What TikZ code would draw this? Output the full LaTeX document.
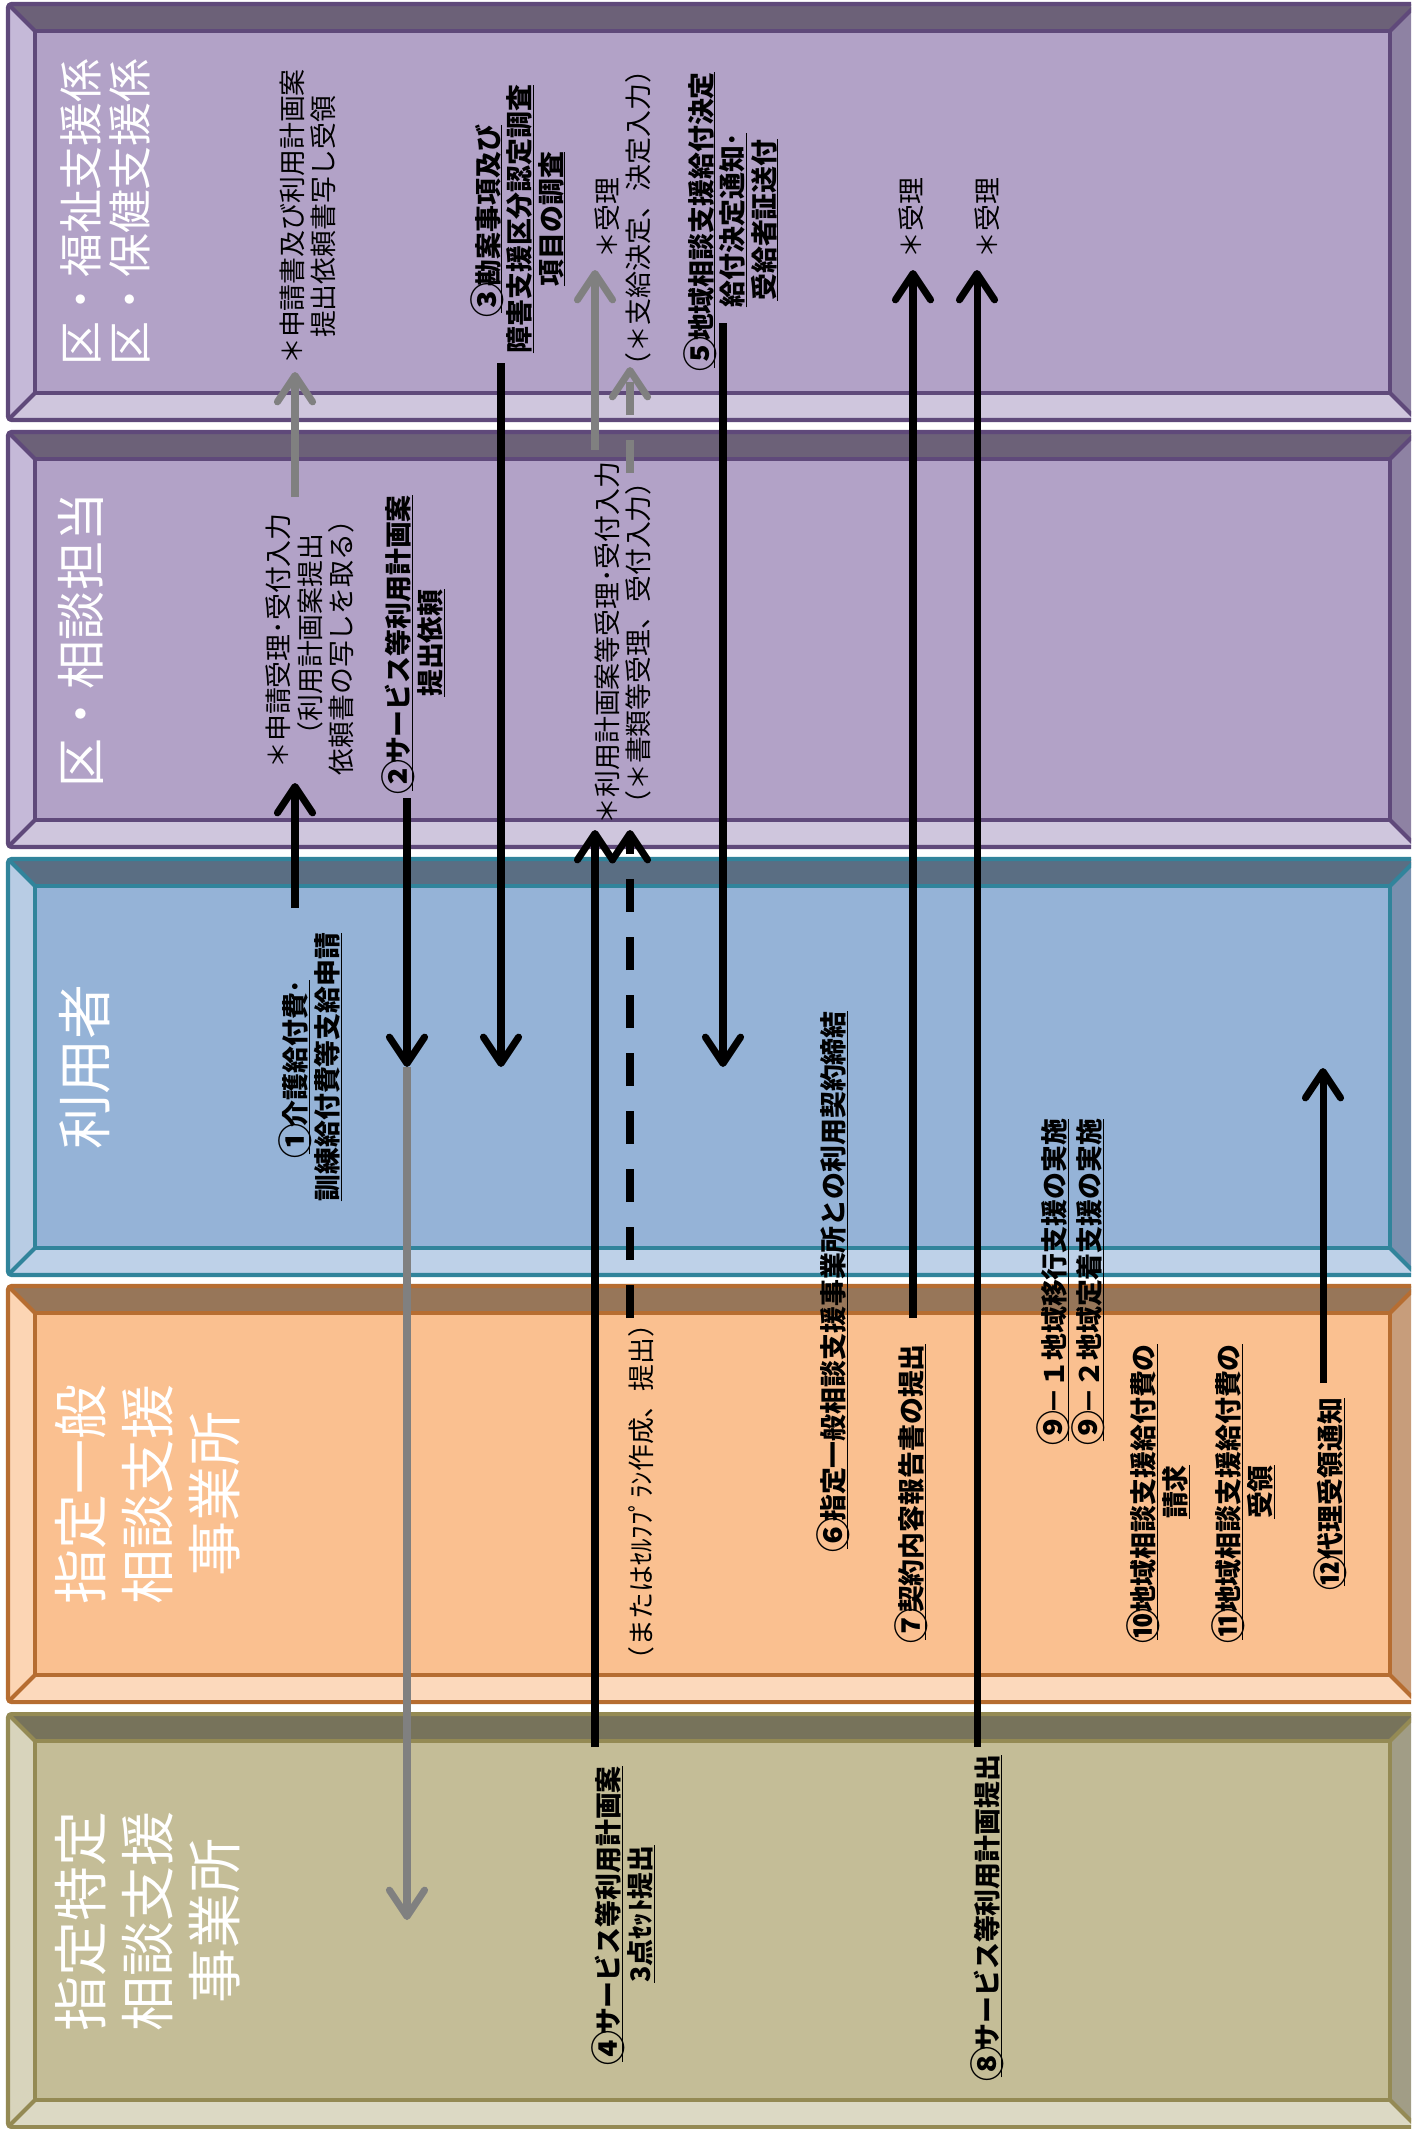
\documentclass[tikz,border=0pt]{standalone}
\usepackage{fontspec}
\setmainfont{Noto Sans CJK JP}
\usetikzlibrary{arrows.meta}
\definecolor{pfill}{HTML}{B2A2C7}
\definecolor{pline}{HTML}{5F497A}
\definecolor{ptop}{HTML}{6C6178}
\definecolor{pbot}{HTML}{CFC6DD}
\definecolor{pleft}{HTML}{C5B9D8}
\definecolor{pright}{HTML}{8E82A3}
\definecolor{bfill}{HTML}{95B3D7}
\definecolor{bline}{HTML}{31849B}
\definecolor{btop}{HTML}{5A6E83}
\definecolor{bbot}{HTML}{BED1E8}
\definecolor{bleft}{HTML}{B8CCE4}
\definecolor{bright}{HTML}{7990AF}
\definecolor{ofill}{HTML}{FAC090}
\definecolor{oline}{HTML}{B66D31}
\definecolor{otop}{HTML}{977659}
\definecolor{obot}{HTML}{FCD9BC}
\definecolor{oleft}{HTML}{FCD5B4}
\definecolor{oright}{HTML}{C79D7B}
\definecolor{gfill}{HTML}{C4BD97}
\definecolor{gline}{HTML}{948A54}
\definecolor{gtop}{HTML}{77735B}
\definecolor{gbot}{HTML}{DCD9C4}
\definecolor{gleft}{HTML}{D8D4BC}
\definecolor{gright}{HTML}{A19D86}
\definecolor{arrgray}{HTML}{808080}
\newcommand\myul[1]{\setbox0=\hbox{#1}\rlap{\rule[-0.16em]{\wd0}{0.6pt}}\box0}
\newcommand\cn[1]{\makebox[1em]{\raisebox{-0.09em}{\scalebox{1.3}{#1}}}}
\newcommand\bevelband[3]{%
  \fill[#3top] (8,#1) -- (1417,#1) -- (1390,{#1+27}) -- (35,{#1+27}) -- cycle;
  \fill[#3bot] (8,#2) -- (1417,#2) -- (1390,{#2-27}) -- (35,{#2-27}) -- cycle;
  \fill[#3left] (8,#1) -- (35,{#1+27}) -- (35,{#2-27}) -- (8,#2) -- cycle;
  \fill[#3right] (1417,#1) -- (1390,{#1+27}) -- (1390,{#2-27}) -- (1417,#2) -- cycle;
  \fill[#3fill] (35,{#1+27}) rectangle (1390,{#2-27});
  \draw[#3line, line width=2.3pt, rounded corners=2pt] (8,#1) rectangle (1417,#2);
  \draw[#3line, line width=2.3pt] (35,{#1+27}) rectangle (1390,{#2-27});
  \draw[#3line, line width=2.3pt] (8,#1) -- (35,{#1+27}) (1417,#1) -- (1390,{#1+27})
     (8,#2) -- (35,{#2-27}) (1417,#2) -- (1390,{#2-27});
}
\tikzset{
  lbl/.style={rotate=90, inner sep=0pt, align=center,
    font=\fontsize{15.3pt}{17.9pt}\selectfont},
  blbl/.style={rotate=90, inner sep=0pt, align=center,
    font=\fontsize{15.3pt}{17.9pt}\selectfont\bfseries},
  ttl/.style={rotate=90, inner sep=0pt, align=center, text=white},
  tiphead/.style={-{Straight Barb[length=15pt,width=20pt,line cap=round,line join=round]}},
  barr/.style={draw=black, line width=4pt, tiphead},
  garr/.style={draw=arrgray, line width=4pt, tiphead},
  dashpat/.style={dash pattern=on 18.8pt off 14.2pt}
}
\begin{document}
\begin{tikzpicture}[x=0.02cm, y=-0.02cm]
\useasboundingbox (0,0) rectangle (1411,2129);
\clip (0,0) rectangle (1411,2129);
\fill[white] (0,0) rectangle (1411,2129);
% bands
\bevelband{4}{420}{p}
\bevelband{432}{847}{p}
\bevelband{859}{1275}{b}
\bevelband{1286}{1702}{o}
\bevelband{1714}{2127}{g}
% titles
\node[ttl, font=\fontsize{25pt}{27.9pt}\selectfont] (t1) at (105,212) {区・福祉支援係\\区・保健支援係};
\node[ttl, font=\fontsize{27.9pt}{30pt}\selectfont] (t2) at (81,640) {区・相談担当};
\node[ttl, font=\fontsize{31.3pt}{34pt}\selectfont] (t3) at (85,1067) {利用者};
\node[ttl, font=\fontsize{31.3pt}{38.1pt}\selectfont] (t4) at (148,1494) {指定一般\\相談支援\\事業所};
\node[ttl, font=\fontsize{31.3pt}{38.1pt}\selectfont] (t5) at (148,1921) {指定特定\\相談支援\\事業所};
% labels band 1
\node[lbl] (la) at (308,217) {＊申請書及び利用計画案\\提出依頼書写し受領};
\node[blbl] (l3) at (518,219) {\myul{\cn{③}勘案事項及び}\\\myul{障害支援区分認定調査}\\\myul{項目の調査}};
\node[lbl] (lb) at (623,218) {＊受理\\（＊支給決定、決定入力）};
\node[blbl] (l5) at (731,220) {\myul{\cn{⑤}地域相談支援給付決定}\\\myul{給付決定通知･}\\\myul{受給者証送付}};
\node[lbl] (ld) at (911,218) {＊受理};
\node[lbl] (le) at (987,218) {＊受理};
% labels band 2
\node[lbl] (lf) at (310,641) {＊申請受理･受付入力\\（利用計画案提出\\依頼書の写しを取る）};
\node[blbl] (l2) at (413,643) {\myul{\cn{②}サービス等利用計画案}\\\myul{提出依頼}};
\node[lbl] (lg) at (623,643) {＊利用計画案等受理･受付入力\\（＊書類等受理、受付入力）};
% labels band 3
\node[blbl] (l1) at (310,1067) {\myul{\cn{①}介護給付費･}\\\myul{訓練給付費等支給申請}};
\node[blbl] (l6) at (833,1280) {\myul{\cn{⑥}指定一般相談支援事業所との利用契約締結}};
\node[blbl] (l9) at (1071,1280) {\myul{\cn{⑨}－１地域移行支援の実施}\\\myul{\cn{⑨}－２地域定着支援の実施}};
% labels band 4
\node[lbl] (lh) at (641,1492) {（またはｾﾙﾌﾌﾟﾗﾝ作成、提出）};
\node[blbl] (l7) at (911,1492) {\myul{\cn{⑦}契約内容報告書の提出}};
\node[blbl] (l10) at (1158,1492) {\myul{\cn{⑩}地域相談支援給付費の}\\\myul{請求}};
\node[blbl] (l11) at (1243,1492) {\myul{\cn{⑪}地域相談支援給付費の}\\\myul{受領}};
\node[blbl] (l12) at (1330,1492) {\myul{\cn{⑫}代理受領通知}};
% labels band 5
\node[blbl] (l4) at (623,1914) {\myul{\cn{④}サービス等利用計画案}\\\myul{3点ｾｯﾄ提出}};
\node[blbl] (l8) at (987,1916) {\myul{\cn{⑧}サービス等利用計画提出}};
% arrow end points
\coordinate (a1s) at (295,497);  \coordinate (a1e) at (295,372);
\coordinate (a2s) at (295,908);  \coordinate (a2e) at (295,783);
\coordinate (a3s) at (407,798);  \coordinate (a3e) at (407,1067);
\coordinate (a4e) at (407,1920);
\coordinate (a5s) at (501,363);  \coordinate (a5e) at (501,1067);
\coordinate (a6s) at (595,1747); \coordinate (a6e) at (595,830);
\coordinate (a7s) at (595,450);  \coordinate (a7e) at (595,270);
\coordinate (a8s) at (630,1318); \coordinate (a8e) at (630,830);
\coordinate (a9s) at (630,473);  \coordinate (a9e) at (630,367);
\coordinate (a10s) at (723,323); \coordinate (a10e) at (723,1067);
\coordinate (a11s) at (913,1318); \coordinate (a11e) at (913,270);
\coordinate (a12s) at (977,1747); \coordinate (a12e) at (977,270);
\coordinate (a13s) at (1323,1383); \coordinate (a13e) at (1323,1068);
% gray arrows
\draw[garr] (a1s) -- (a1e);
\draw[garr] (a3e) -- (a4e);
\draw[garr] (a7s) -- (a7e);
\draw[garr, dashpat] (a9s) -- (a9e);
% black arrows
\draw[barr] (a2s) -- (a2e);
\draw[barr] (a3s) -- (a3e);
\draw[barr] (a5s) -- (a5e);
\draw[barr] (a6s) -- (a6e);
\draw[barr, dashpat] (a8s) -- (a8e);
\draw[barr] (a10s) -- (a10e);
\draw[barr] (a11s) -- (a11e);
\draw[barr] (a12s) -- (a12e);
\draw[barr] (a13s) -- (a13e);
\end{tikzpicture}
\end{document}
